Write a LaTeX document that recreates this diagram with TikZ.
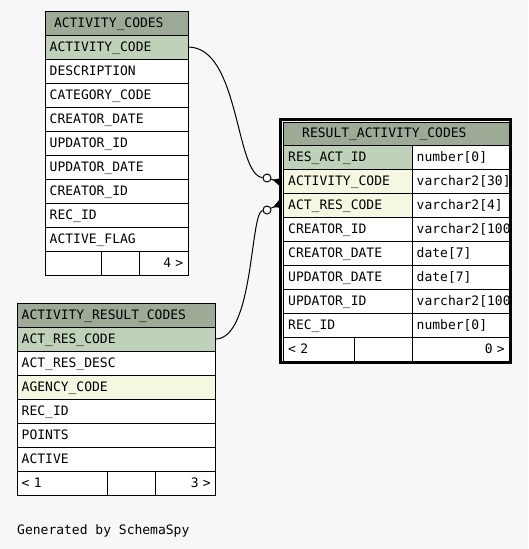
\documentclass[tikz,border=0pt]{standalone}
\usepackage{fontspec}
\newfontfamily\dejamono{DejaVu Sans Mono}
\usetikzlibrary{positioning, arrows.meta}

\definecolor{bggray}{RGB}{247,247,247}
\definecolor{hdrgreen}{RGB}{157,171,150}
\definecolor{pkgreen}{RGB}{191,209,184}
\definecolor{fkyellow}{RGB}{245,247,224}

\begin{document}
\begin{tikzpicture}[x=1pt, y=-1pt, line width=1pt,
    cell/.style={draw, fill=white, anchor=north west, outer sep=0pt, minimum height=24pt,
      inner xsep=4.7pt, inner ysep=0pt, text height=10pt, text depth=2pt, align=left,
      font=\dejamono\fontsize{13pt}{15pt}\selectfont},
    hdr/.style={cell, fill=hdrgreen},
    pk/.style={cell, fill=pkgreen},
    fk/.style={cell, fill=fkyellow},
    foot/.style={cell, align=right},
    opt/.style={circle, draw, fill=white, minimum size=8pt, inner sep=0pt},
    crow/.style={-{Triangle[reversed, length=8pt, width=8pt]}},
  ]
  \path[use as bounding box, fill=bggray] (0,0) rectangle (528,549);

  % ACTIVITY_CODES
  \node[hdr, text width=125pt, inner xsep=9pt] (ac) at (45,11) {ACTIVITY\_CODES};
  \node[pk, text width=133.6pt, below=0pt of ac] (ac_code) {ACTIVITY\_CODE};
  \node[cell, text width=133.6pt, below=0pt of ac_code] (ac_desc) {DESCRIPTION};
  \node[cell, text width=133.6pt, below=0pt of ac_desc] (ac_cat) {CATEGORY\_CODE};
  \node[cell, text width=133.6pt, below=0pt of ac_cat] (ac_cdate) {CREATOR\_DATE};
  \node[cell, text width=133.6pt, below=0pt of ac_cdate] (ac_uid) {UPDATOR\_ID};
  \node[cell, text width=133.6pt, below=0pt of ac_uid] (ac_udate) {UPDATOR\_DATE};
  \node[cell, text width=133.6pt, below=0pt of ac_udate] (ac_cid) {CREATOR\_ID};
  \node[cell, text width=133.6pt, below=0pt of ac_cid] (ac_rec) {REC\_ID};
  \node[cell, text width=133.6pt, below=0pt of ac_rec] (ac_flag) {ACTIVE\_FLAG};
  \node[foot, text width=47.3pt, below right=0pt and 0pt of ac_flag.south west] (ac_f1) {};
  \node[foot, text width=27.9pt, right=0pt of ac_f1] (ac_f2) {};
  \node[foot, text width=39.6pt, right=0pt of ac_f2] (ac_f3) {4 >};

  % ACTIVITY_RESULT_CODES
  \node[hdr, text width=189.1pt] (arc) at (17,303) {ACTIVITY\_RESULT\_CODES};
  \node[pk, text width=189.1pt, below=0pt of arc] (arc_code) {ACT\_RES\_CODE};
  \node[cell, text width=189.1pt, below=0pt of arc_code] (arc_desc) {ACT\_RES\_DESC};
  \node[fk, text width=189.1pt, below=0pt of arc_desc] (arc_agency) {AGENCY\_CODE};
  \node[cell, text width=189.1pt, below=0pt of arc_agency] (arc_rec) {REC\_ID};
  \node[cell, text width=189.1pt, below=0pt of arc_rec] (arc_points) {POINTS};
  \node[cell, text width=189.1pt, below=0pt of arc_points] (arc_active) {ACTIVE};
  \node[foot, align=left, text width=80.6pt, below right=0pt and 0pt of arc_active.south west] (arc_f1) {< 1};
  \node[foot, text width=39.3pt, right=0pt of arc_f1] (arc_f2) {};
  \node[foot, text width=50.4pt, right=0pt of arc_f2] (arc_f3) {3 >};

  % RESULT_ACTIVITY_CODES
  \begin{scope}
    \clip (282.5,121.5) rectangle (509,361.5);
    \node[hdr, text width=188.1pt, inner xsep=18.7pt, minimum height=23pt] (rac) at (283.5,122) {RESULT\_ACTIVITY\_CODES};
    \node[pk, text width=119.1pt, below right=0pt and 0pt of rac.south west] (rac_id) {RES\_ACT\_ID};
    \node[fk, text width=119.1pt, below=0pt of rac_id] (rac_actcode) {ACTIVITY\_CODE};
    \node[fk, text width=119.1pt, below=0pt of rac_actcode] (rac_rescode) {ACT\_RES\_CODE};
    \node[cell, text width=119.1pt, below=0pt of rac_rescode] (rac_cid) {CREATOR\_ID};
    \node[cell, text width=119.1pt, below=0pt of rac_cid] (rac_cdate) {CREATOR\_DATE};
    \node[cell, text width=119.1pt, below=0pt of rac_cdate] (rac_udate) {UPDATOR\_DATE};
    \node[cell, text width=119.1pt, below=0pt of rac_udate] (rac_uid) {UPDATOR\_ID};
    \node[cell, text width=119.1pt, below=0pt of rac_uid] (rac_rec) {REC\_ID};
    \node[cell, text width=87.6pt, right=0pt of rac_id] (rac_id_t) {number[0]};
    \node[cell, text width=87.6pt, right=0pt of rac_actcode] (rac_actcode_t) {varchar2[30]};
    \node[cell, text width=87.6pt, right=0pt of rac_rescode] (rac_rescode_t) {varchar2[4]};
    \node[cell, text width=87.6pt, right=0pt of rac_cid] (rac_cid_t) {varchar2[100]};
    \node[cell, text width=87.6pt, right=0pt of rac_cdate] (rac_cdate_t) {date[7]};
    \node[cell, text width=87.6pt, right=0pt of rac_udate] (rac_udate_t) {date[7]};
    \node[cell, text width=87.6pt, right=0pt of rac_uid] (rac_uid_t) {varchar2[100]};
    \node[cell, text width=87.6pt, right=0pt of rac_rec] (rac_rec_t) {number[0]};
    \node[foot, align=left, text width=61.1pt, below right=0pt and 0pt of rac_rec.south west] (rac_f1) {< 2};
    \node[foot, text width=49.1pt, right=0pt of rac_f1] (rac_f2) {};
    \node[foot, text width=87.6pt, right=0pt of rac_f2] (rac_f3) {0 >};
  \end{scope}
  \draw[line width=3.4pt] (280.7,119.7) rectangle (510.3,362.3);

  % relationships
  \node[opt] (o1) at (267,178) {};
  \node[opt] (o2) at (267,210) {};
  \draw (ac_code.east) .. controls (240,47) and (235,175) .. (o1);
  \draw (arc_code.east) .. controls (254,339) and (250,212) .. (o2);
  \draw[crow] (o1) -- ([xshift=-3pt, yshift=-1pt]rac_actcode.west);
  \draw[crow] (o2) -- ([xshift=-3pt, yshift=1pt]rac_rescode.west);

  \node[anchor=base west, inner sep=0pt, font=\dejamono\fontsize{13pt}{15pt}\selectfont] (gen) at (16.7,534) {Generated by SchemaSpy};
\end{tikzpicture}
\end{document}
